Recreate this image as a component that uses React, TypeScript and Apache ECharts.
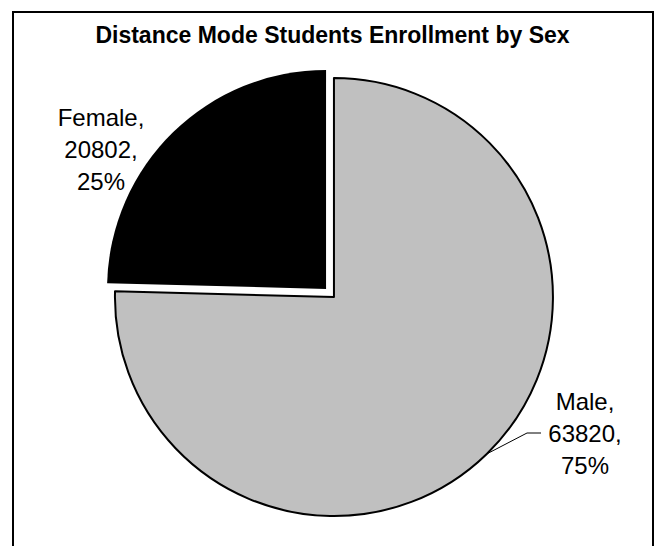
import React, { useEffect, useRef } from "react";
import * as echarts from "echarts";

const categories = ["Male", "Female"];
const enrollment = [63820, 20802];
const sliceColors = ["#c0c0c0", "#000000"];
const titleText = "Distance Mode Students Enrollment by Sex";

export default function App() {
  const ref = useRef<HTMLDivElement>(null);

  useEffect(() => {
    if (!ref.current) return;
    const chart = echarts.init(ref.current, null, { renderer: "svg" });
    const font = "'Liberation Sans', Arial, sans-serif";
    const total = enrollment.reduce((a, b) => a + b, 0);
    const pct = enrollment.map((v) => Math.round((v / total) * 100));
    const labelText = categories.map(
      (c, i) => `${c},\n${enrollment[i]},\n${pct[i]}%`
    );

    const pieCenter = [330, 293];
    const pieRadius = 219;
    const offset = 5.66;

    // leader line start: edge of the Male slice at its bisector
    const theta = (enrollment[0] / total) * Math.PI; // half of slice sweep, from 12 o'clock clockwise
    const dirX = Math.sin(theta);
    const dirY = -Math.cos(theta);
    const edge = [
      pieCenter[0] + (pieRadius + offset) * dirX,
      pieCenter[1] + (pieRadius + offset) * dirY,
    ];

    const data = categories.map((name, i) => ({
      name,
      value: enrollment[i],
      selected: true,
      itemStyle: {
        color: sliceColors[i],
        borderColor: i === 0 ? "#000" : "#fff",
        borderWidth: i === 0 ? 2 : 0,
      },
    }));

    const labelStyle = {
      fontFamily: font,
      fontSize: 24,
      lineHeight: 32,
      fill: "#000",
      align: "center",
      verticalAlign: "middle",
    };

    chart.setOption({
      animation: false,
      backgroundColor: "#fff",
      title: {
        text: titleText,
        left: "center",
        top: 18,
        textStyle: {
          fontFamily: font,
          fontWeight: "bold",
          fontSize: 23,
          color: "#000",
        },
      },
      graphic: [
        {
          type: "rect",
          shape: { x: 13, y: 12, width: 640, height: 560 },
          style: { fill: "none", stroke: "#000", lineWidth: 2 },
          silent: true,
        },
        {
          type: "polyline",
          shape: { points: [edge, [527, 433], [541, 433]] },
          style: { fill: "none", stroke: "#000", lineWidth: 1 },
          silent: true,
          z: 10,
        },
        {
          type: "text",
          x: 585,
          y: 433,
          style: { ...labelStyle, text: labelText[0] },
          silent: true,
          z: 10,
        },
        {
          type: "text",
          x: 101,
          y: 149,
          style: { ...labelStyle, text: labelText[1] },
          silent: true,
          z: 10,
        },
      ],
      series: [
        {
          type: "pie",
          center: pieCenter,
          radius: pieRadius,
          startAngle: 90,
          clockwise: true,
          selectedMode: "multiple",
          selectedOffset: offset,
          emphasis: { disabled: true },
          data,
          label: { show: false },
          labelLine: { show: false },
        },
      ],
    });
    return () => chart.dispose();
  }, []);

  return (
    <div
      ref={ref}
      style={{ position: "fixed", left: 0, top: 0, width: 665, height: 546 }}
    />
  );
}
